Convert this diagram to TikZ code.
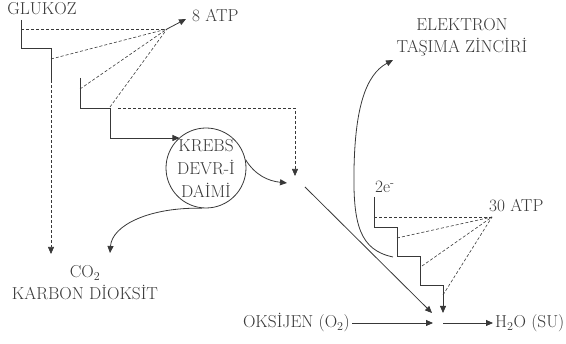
\documentclass[tikz,border=0pt]{standalone}
\usepackage{fontspec}
\usetikzlibrary{arrows.meta}
\definecolor{ink}{HTML}{383838}
\begin{document}
\begin{tikzpicture}[x=1pt,y=-1pt,
  txt/.style={inner sep=0pt, text=ink, font=\fontsize{17.3}{20}\selectfont},
  ln/.style={draw=ink, line width=0.8pt},
  dln/.style={draw=ink, line width=0.6pt, dash pattern=on 3pt off 2pt},
  arr/.style={-{Triangle[length=7pt,width=6pt]}},
]
\useasboundingbox (0,0) rectangle (566,344);
% texts
\node[txt,anchor=base] (glukoz) at (42,15) {GLUKOZ};
\node[txt,anchor=base west] (atp8) at (192,22) {8 ATP};
\node[txt,align=center,font=\fontsize{17.3}{21.5}\selectfont] (etz) at (462,37) {ELEKTRON\\TAŞIMA ZİNCİRİ};
\node[txt,draw=ink,line width=0.8pt,circle,minimum size=80pt,inner sep=-8pt,align=center,font=\fontsize{17.3}{23}\selectfont] (krebs) at (206,168) {KREBS\\DEVR-İ\\DAİMİ};
\node[txt,anchor=base] (co2) at (85,278) {CO\textsubscript{2}};
\node[txt,anchor=base] (karbon) at (85,300) {KARBON DİOKSİT};
\node[txt,anchor=base west] (e2) at (375,193) {2e\textsuperscript{-}};
\node[txt,anchor=base west] (atp30) at (489,212) {30 ATP};
\node[txt,anchor=base east] (oks) at (350,328) {OKSİJEN (O\textsubscript{2})};
\node[txt,anchor=base west] (h2o) at (495,328) {H\textsubscript{2}O (SU)};
% points
\coordinate (p1) at (167,29);
\coordinate (p2) at (492,217);
\coordinate (atpTip) at (186,19);
\coordinate (mid) at (295,176);
\coordinate (midIn) at (287,183);
\coordinate (co2Tip) at (110,253);
\coordinate (co2Dash) at (51,254);
\coordinate (waterL) at (432,313);
\coordinate (waterT) at (443,313);
\coordinate (oIn) at (433,323);
\coordinate (etzTip) at (393,60);
% glycolysis staircase
\draw[ln] (21,20) -- (21,48) -- (51,48) -- (51,80);
\draw[dln,arr] (51,80) -- (co2Dash);
\draw[ln,arr] (80,78) -- (80,108) -- (110,108) -- (110,138) -- (110,138 -| krebs.131);
\draw[dln] (21,29) -- (p1);
\draw[dln] (51,59) -- (p1);
\draw[dln] (80,89) -- (p1);
\draw[dln] (110,107) -- (p1);
\draw[ln,arr] (p1) -- (atpTip);
\draw[dln,arr] (118,108) -- (295,108) -- (mid);
% krebs outputs
\draw[ln,arr] (krebs.12) .. controls (255,175) and (268,181) .. (midIn);
\draw[ln,arr] (krebs.265) .. controls (150,207) and (112,225) .. (co2Tip);
\draw[ln,arr] (305,187) -- (waterL);
% electron transport
\draw[ln,arr] (393,257) .. controls (360,250) and (353,225) .. (354,170) .. controls (355,110) and (365,75) .. (etzTip);
\draw[ln,arr] (374,197) -- (374,227) -- (397,227) -- (397,256) -- (420,256) -- (420,285) -- (443,285) -- (waterT);
\draw[dln] (374,217) -- (p2);
\draw[dln] (397,238) -- (p2);
\draw[dln] (422,266) -- (p2);
\draw[dln] (443,295) -- (p2);
% bottom
\draw[ln,arr] (352,323) -- (oIn);
\draw[ln,arr] (443,323) -- (493,323);
\end{tikzpicture}
\end{document}
